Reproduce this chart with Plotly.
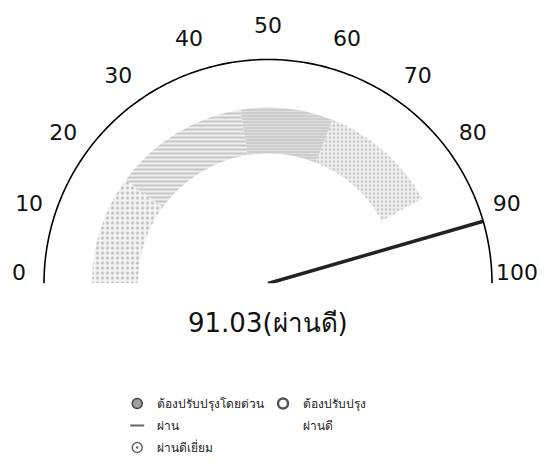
import numpy as np
import plotly.graph_objects as go

# ---- data ----
gauge_value = 91.03
gauge_status = "ผ่านดี"
tick_values = [0, 10, 20, 30, 40, 50, 60, 70, 80, 90, 100]
tick_labels = ["0", "10", "20", "30", "40", "50", "60", "70", "80", "90", "100"]
seg_names = ["ต้องปรับปรุงโดยด่วน", "ต้องปรับปรุง", "ผ่าน", "ผ่านดี", "ผ่านดีเยี่ยม"]
seg_start = [0, 20, 45, 84, 62]
seg_end = [20, 45, 62, 100, 84]

# ---- style ----
GMAX = 100.0
DEG = 180.0 / GMAX
R_MAX = 268.0          # polar radial range (1 unit = 1 px)
R_OUT = 224.0
BAND_IN = 130.0
BAND_OUT = 176.0
CX, CY = 268.0, 283.5  # gauge centre in px
W, H = 546, 469
FONT = "DejaVu Sans, Noto Sans, sans-serif"
LFONT = "Noto Sans, DejaVu Sans, sans-serif"

seg_legend = ["legend", "legend2", "legend", "legend2", "legend"]
seg_pattern = [
    dict(shape=".", fgcolor="#8c8c8c", bgcolor="#f3f3f3", size=5, solidity=0.3),
    dict(shape="-", fgcolor="#8a8a8a", bgcolor="#efefef", size=4, solidity=0.4),
    dict(shape="-", fgcolor="#8f8f8f", bgcolor="#e9e9e9", size=3, solidity=0.5),
    None,
    dict(shape=".", fgcolor="#999999", bgcolor="#f0f0f0", size=4, solidity=0.35),
]
seg_icon = [
    dict(symbol="circle", color="#a0a0a0", size=10, line=dict(color="#444", width=1.5)),
    dict(symbol="circle-open", color="#555555", size=10, line=dict(color="#555", width=2.5)),
    dict(symbol="line-ew", color="#666666", size=10, line=dict(color="#666", width=2)),
    dict(symbol="circle", color="#ffffff", size=10, line=dict(color="#ffffff", width=0)),
    dict(symbol="circle-open-dot", color="#666666", size=10, line=dict(color="#666", width=1.5)),
]

fig = go.Figure()
for name, s, e, pat in zip(seg_names, seg_start, seg_end, seg_pattern):
    marker = dict(color="#ffffff", line=dict(width=0))
    if pat is not None:
        marker = dict(color=pat["bgcolor"], pattern=pat, line=dict(width=0))
    fig.add_trace(go.Barpolar(
        r=[BAND_OUT - BAND_IN], base=[BAND_IN],
        theta=[(s + e) / 2 * DEG], width=[(e - s) * DEG],
        name=name, marker=marker, legendgroup=name, showlegend=False, hoverinfo="name",
    ))

# legend entries
for name, leg, icon in zip(seg_names, seg_legend, seg_icon):
    fig.add_trace(go.Scatterpolar(
        r=[None], theta=[None], mode="markers", name=name, legendgroup=name,
        legend=leg, marker=icon, hoverinfo="skip",
    ))

# outer arc (gauge scale line)
arc_theta = np.linspace(0, GMAX, 181) * DEG
fig.add_trace(go.Scatterpolar(
    r=[R_OUT] * len(arc_theta), theta=arc_theta, mode="lines",
    line=dict(color="#000", width=1.6), showlegend=False, hoverinfo="skip",
))

# tick labels
tick_theta = [min(max(v * DEG, 2.0), 178.0) for v in tick_values]
tick_r = [249 + 7 * np.sin(np.radians(t)) for t in tick_theta]
fig.add_trace(go.Scatterpolar(
    r=tick_r, theta=tick_theta, mode="text", text=tick_labels,
    textfont=dict(size=22, color="#111", family=FONT), textposition="middle center",
    showlegend=False, hoverinfo="skip",
))

# needle
fig.add_trace(go.Scatterpolar(
    r=[0, R_OUT], theta=[gauge_value * DEG, gauge_value * DEG],
    mode="lines", line=dict(color="#222", width=3.5), showlegend=False,
    hoverinfo="skip",
))

legend_common = dict(xanchor="left", yanchor="top", font=dict(size=12, color="#222", family=LFONT),
                     itemwidth=30, bgcolor="rgba(0,0,0,0)", tracegroupgap=3)
fig.update_layout(
    width=W, height=H,
    margin=dict(l=0, r=0, t=0, b=0),
    paper_bgcolor="white",
    font=dict(family=LFONT, color="#111"),
    polar=dict(
        domain=dict(x=[(CX - R_MAX) / W, (CX + R_MAX) / W],
                    y=[(H - CY) / H, (H - CY + R_MAX) / H]),
        sector=[0, 180],
        bgcolor="rgba(0,0,0,0)",
        bargap=0,
        radialaxis=dict(range=[0, R_MAX], showline=False, showticklabels=False,
                        ticks="", showgrid=False),
        angularaxis=dict(
            direction="clockwise", rotation=180, thetaunit="degrees",
            showgrid=False, showline=False, showticklabels=False, ticks="",
        ),
    ),
    legend=dict(x=0.2147, y=0.1706, **legend_common),
    legend2=dict(x=0.4817, y=0.1706, **legend_common),
    annotations=[dict(
        x=CX / W, y=(H - 340) / H, xref="paper", yref="paper", xanchor="center",
        text=f"{gauge_value:.2f}({gauge_status})", showarrow=False,
        font=dict(size=26, color="#111", family=FONT),
    )],
)

fig.write_html("out.html", config={"displayModeBar": False},
               post_script="document.body.style.margin='0px';")
